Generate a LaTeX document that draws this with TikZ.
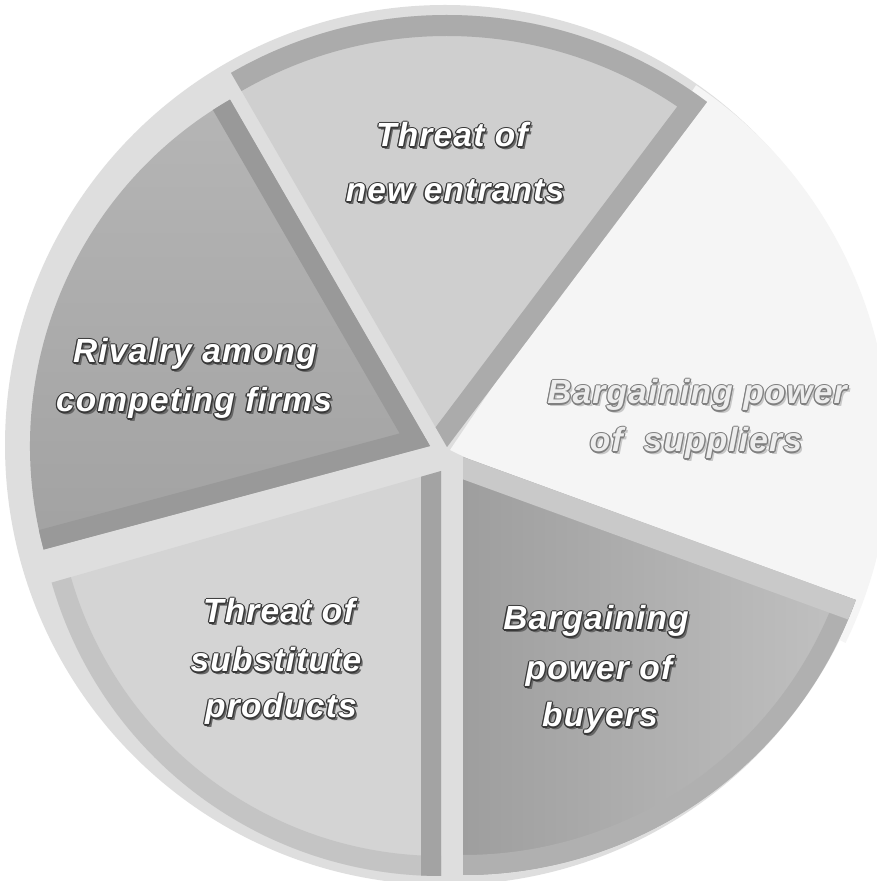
\documentclass[tikz,border=0pt]{standalone}
\usepackage{fontspec}
\newfontfamily\labfam[LetterSpace=3.5]{Liberation Sans}
\usetikzlibrary{calc}
\definecolor{ring}{gray}{0.87}
\definecolor{topfill}{gray}{0.81}
\definecolor{topband}{gray}{0.67}
\definecolor{supfill}{gray}{0.96}
\definecolor{rivtop}{gray}{0.72}
\definecolor{rivbot}{gray}{0.63}
\definecolor{rivband}{gray}{0.60}
\definecolor{subfill}{gray}{0.83}
\definecolor{subband}{gray}{0.64}
\definecolor{subarc}{gray}{0.77}
\definecolor{buyleft}{gray}{0.62}
\definecolor{buyright}{gray}{0.77}
\definecolor{buytop}{gray}{0.79}
\definecolor{buyarc}{gray}{0.69}
\definecolor{otl}{gray}{0.22}
\definecolor{shd}{gray}{0.40}
\definecolor{sotl}{gray}{0.50}
\definecolor{sshd}{gray}{0.78}
\definecolor{sfil}{gray}{0.93}
\newcommand\labfont{\fontsize{33.5}{40}\selectfont\labfam\bfseries\itshape}
\newcommand\emb[4]{%
\makebox[0pt][l]{\kern2.4pt\raisebox{-2.4pt}{\textcolor{#3}{#4}}}%
\makebox[0pt][l]{\kern-1.3pt\textcolor{#2}{#4}}%
\makebox[0pt][l]{\kern1.3pt\textcolor{#2}{#4}}%
\makebox[0pt][l]{\raisebox{1.3pt}{\textcolor{#2}{#4}}}%
\makebox[0pt][l]{\raisebox{-1.3pt}{\textcolor{#2}{#4}}}%
\makebox[0pt][l]{\kern0.9pt\raisebox{0.9pt}{\textcolor{#2}{#4}}}%
\makebox[0pt][l]{\kern-0.9pt\raisebox{0.9pt}{\textcolor{#2}{#4}}}%
\makebox[0pt][l]{\kern0.9pt\raisebox{-0.9pt}{\textcolor{#2}{#4}}}%
\makebox[0pt][l]{\kern-0.9pt\raisebox{-0.9pt}{\textcolor{#2}{#4}}}%
\textcolor{#1}{#4}}
\newcommand\wlab[1]{\emb{white}{otl}{shd}{#1}}
\newcommand\slab[1]{\emb{sfil}{sotl}{sshd}{#1}}
\tikzset{lab/.style={font=\labfont, inner sep=0pt, anchor=base}}
\begin{document}
\begin{tikzpicture}[x=1pt,y=1pt]
\useasboundingbox (0,0) rectangle (876,881);
\fill[white] (0,0) rectangle (876,881);
% apexes
\coordinate (O) at (445,436);
\coordinate (Ctop) at (447,434);
\coordinate (Csup) at (450,431);
\coordinate (Criv) at (430,435);
\coordinate (Csub) at (441,410);
\coordinate (Cbuy) at (463,424);
% background disc
\fill[ring] (O) circle[radius=440pt];
% suppliers
\fill[supfill] (Csup) -- ++(-26:440pt) arc[start angle=-26,end angle=56,radius=440pt] -- cycle;
% threat of new entrants
\begin{scope}
\clip (Ctop) -- ++(53:432pt) arc[start angle=53,end angle=120,radius=432pt] -- cycle;
\fill[topfill] (Ctop) circle[radius=440pt];
\draw[topband,line width=42pt] (Ctop) -- ++(53:432pt) arc[start angle=53,end angle=120,radius=432pt];
\end{scope}
% rivalry
\begin{scope}
\clip (Criv) -- ++(120:400pt) arc[start angle=120,end angle=195,radius=400pt] -- cycle;
\shade[top color=rivtop,bottom color=rivbot] (Criv) ++(-410,-130) rectangle ++(420,530);
\draw[rivband,line width=40pt] ($(Criv)+(195:400pt)$) -- (Criv) -- ++(120:400pt);
\end{scope}
% substitutes
\begin{scope}
\clip (Csub) -- ++(196:405pt) arc[start angle=196,end angle=270,radius=405pt] -- cycle;
\fill[subfill] (Csub) circle[radius=410pt];
\draw[subarc,line width=40pt] (Csub) ++(196:405pt) arc[start angle=196,end angle=270,radius=405pt];
\draw[subband,line width=40pt] (Csub) -- ++(270:405pt);
\end{scope}
% buyers
\begin{scope}
\clip (Cbuy) -- ++(-90:418pt) arc[start angle=-90,end angle=-20,radius=418pt] -- cycle;
\shade[left color=buyleft,right color=buyright] (Cbuy) ++(0,-420) rectangle ++(420,430);
\draw[buyarc,line width=40pt] (Cbuy) ++(-90:418pt) arc[start angle=-90,end angle=-20,radius=418pt];
\draw[buytop,line width=42pt] (Cbuy) -- ++(-20:418pt);
\end{scope}
% labels
\node[lab] (ent1) at (452,734) {\wlab{Threat of}};
\node[lab] (ent2) at (455,679) {\wlab{new entrants}};
\node[lab] (riv1) at (195,518) {\wlab{Rivalry among}};
\node[lab] (riv2) at (194,469) {\wlab{competing firms}};
\node[lab] (sup1) at (697,477) {\slab{Bargaining power}};
\node[lab] (sup2) at (696,429) {\slab{of\ \ suppliers}};
\node[lab] (sub1) at (279,258) {\wlab{Threat of}};
\node[lab] (sub2) at (276,209) {\wlab{substitute}};
\node[lab] (sub3) at (281,163) {\wlab{products}};
\node[lab] (buy1) at (596,251) {\wlab{Bargaining}};
\node[lab] (buy2) at (599,201) {\wlab{power of}};
\node[lab] (buy3) at (600,154) {\wlab{buyers}};
\end{tikzpicture}
\end{document}
